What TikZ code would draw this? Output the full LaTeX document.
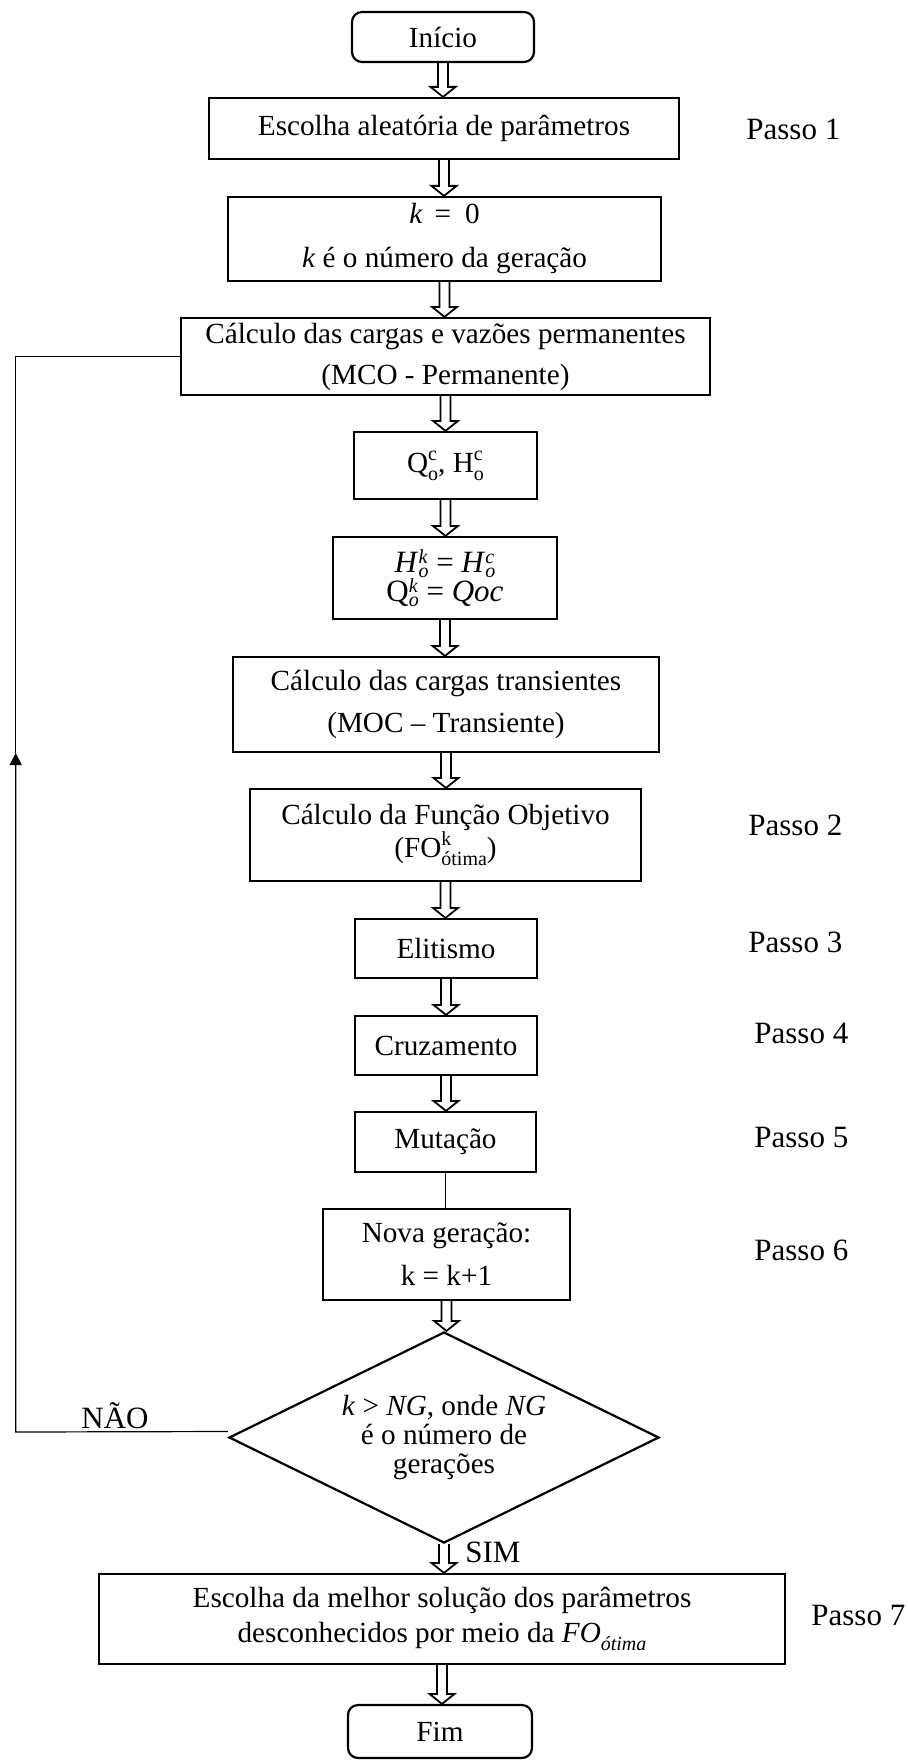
\documentclass[tikz,border=0pt]{standalone}
\usepackage{fontspec}
\setmainfont{Liberation Serif}
\usetikzlibrary{calc,arrows.meta,shapes.geometric}

% small scripts, stacked on the same horizontal position
\newlength\scriptdrop
\newlength\scriptrise
\setlength\scriptdrop{4pt}
\setlength\scriptrise{6pt}
\newcommand{\lowscript}[1]{\raisebox{-\scriptdrop}{\fontsize{10}{10}\selectfont #1}}
\newcommand{\highscript}[1]{\raisebox{\scriptrise}{\fontsize{10}{10}\selectfont #1}}
\newsavebox\lowbox
\newsavebox\highbox
\newcommand{\subsup}[2]{\sbox\lowbox{\lowscript{#1}}\sbox\highbox{\highscript{#2}}%
  \ifdim\wd\lowbox>\wd\highbox\rlap{\usebox\highbox}\usebox\lowbox\else\rlap{\usebox\lowbox}\usebox\highbox\fi}

\newcommand{\boxfont}{\fontsize{14.6}{17.5}\selectfont}
\newcommand{\sidefont}{\fontsize{15.5}{18}\selectfont}

\tikzset{
  box/.style={draw, rectangle, line width=1.1pt, inner sep=0pt, align=center, font=\boxfont},
  term/.style={box, rounded corners=5pt},
  decision/.style={draw, diamond, aspect=2.04, line width=1.1pt, inner sep=0pt, align=center,
    font=\fontsize{14.6}{14.5}\selectfont},
  passo/.style={anchor=west, inner sep=0pt, font=\sidefont},
  answer/.style={anchor=base west, inner sep=0pt, font=\sidefont},
  hollowline/.style={draw, line width=0.9pt, line join=miter},
  hollow/.style={to path={let \p1=(\tikztostart), \p2=(\tikztotarget) in
      (\x1-2.5pt,\y1) -- (\x1-2.5pt,\y2+5pt) -- (\x1-6.25pt,\y2+5pt) -- (\x1,\y2)
      -- (\x1+6.25pt,\y2+5pt) -- (\x1+2.5pt,\y2+5pt) -- (\x1+2.5pt,\y1)}},
  plainline/.style={draw, line width=0.8pt},
  loopline/.style={draw, line width=0.6pt},
}

\begin{document}
\begin{tikzpicture}[x=0.5pt, y=-0.5pt]
\useasboundingbox (0,0) rectangle (908,1760);

% main column
\node[term, minimum width=91pt, minimum height=25pt] (inicio) at (443,37) {Início};
\node[box, minimum width=235pt, minimum height=30.5pt] (escolha) at (444,128.5) {Escolha aleatória de parâmetros};
\node[box, minimum width=216.5pt, minimum height=42pt] (gen0) at (444.5,239)
  {\textit{k}\hspace{6pt}=\hspace{7pt}0\\[4.5pt]\textit{k} é o número da geração};
\node[box, minimum width=264.5pt, minimum height=38.5pt] (perm) at (445.5,356.5)
  {Cálculo das cargas e vazões permanentes\\[3pt](MCO - Permanente)};
\node[box, minimum width=91.5pt, minimum height=33.5pt] (qh) at (445.5,465.5)
  {Q\subsup{o}{c}, H\subsup{o}{c}};
\node[box, minimum width=112pt, minimum height=41pt,
      font={\fontsize{15.5}{16}\selectfont\setlength\scriptdrop{2.5pt}\setlength\scriptrise{4.5pt}}] (hk) at (445,578)
  {\textit{H}\subsup{\textit{o}}{\textit{k}} = \textit{H}\subsup{\textit{o}}{\textit{c}}\\[-1.5pt]
   Q\subsup{\textit{o}}{\textit{k}} = \textit{Qoc}};
\node[box, minimum width=213pt, minimum height=47.5pt] (trans) at (446,704.5)
  {Cálculo das cargas transientes\\[3.5pt](MOC – Transiente)};
\node[box, minimum width=195.5pt, minimum height=46pt] (fo) at (445.5,835)
  {Cálculo da Função Objetivo\\[-1pt](FO\subsup{ótima}{k})};
\node[box, minimum width=91pt, minimum height=29.5pt] (elit) at (446,948.5) {Elitismo};
\node[box, minimum width=91pt, minimum height=29.5pt] (cruz) at (446,1045.5) {Cruzamento};
\node[box, minimum width=90.5pt, minimum height=30pt] (mut) at (445.5,1142) {Mutação};
\node[box, minimum width=123.5pt, minimum height=45.5pt] (nova) at (446.5,1254.5)
  {Nova geração:\\[4pt]k = k+1};
\node[decision, minimum width=215pt, minimum height=105.5pt] (dec) at (444,1437.5)
  {\textit{k} > \textit{NG}, onde \textit{NG}\\é o número de\\gerações};
\node[box, minimum width=343pt, minimum height=45pt] (best) at (442,1619)
  {Escolha da melhor solução dos parâmetros\\desconhecidos por meio da \textit{FO}\lowscript{\textit{ótima}}};
\node[term, minimum width=92pt, minimum height=26.5pt] (fim) at (440,1731.5) {Fim};

% step labels
\node[passo] (p1) at (746,129) {Passo 1};
\node[passo] (p2) at (748,825) {Passo 2};
\node[passo] (p3) at (748,942) {Passo 3};
\node[passo] (p4) at (754,1033) {Passo 4};
\node[passo] (p5) at (754,1137) {Passo 5};
\node[passo] (p6) at (754,1250) {Passo 6};
\node[passo] (p7) at (811,1615) {Passo 7};

% branch labels
\node[answer] (nao) at (81,1428) {NÃO};
\node[answer] (sim) at (465,1562) {SIM};

% hollow flow arrows
\draw[hollowline] (inicio.south) to[hollow] (escolha.north);
\draw[hollowline] (escolha.south) to[hollow] (gen0.north);
\draw[hollowline] (gen0.south) to[hollow] (perm.north);
\draw[hollowline] (perm.south) to[hollow] (qh.north);
\draw[hollowline] (qh.south) to[hollow] (hk.north);
\draw[hollowline] (hk.south) to[hollow] (trans.north);
\draw[hollowline] (trans.south) to[hollow] (fo.north);
\draw[hollowline] (fo.south) to[hollow] (elit.north);
\draw[hollowline] (elit.south) to[hollow] (cruz.north);
\draw[hollowline] (cruz.south) to[hollow] (mut.north);
\draw[plainline] (mut.south) -- (mut.south |- nova.north);
\draw[hollowline] (nova.south) to[hollow] (dec.north);
\draw[hollowline] (dec.south) to[hollow] (best.north);
\draw[hollowline] (best.south) to[hollow] (fim.north);

% loop back for a new generation
\coordinate (loopLow) at (15.7,1432);
\coordinate (loopMid) at (15.7,753);
\draw[loopline, -{Triangle[length=6pt,width=6pt]}] ([yshift=3pt]dec.west) -- (loopLow) -- (loopMid);
\draw[loopline] (loopMid) |- (perm.west);
\end{tikzpicture}
\end{document}
